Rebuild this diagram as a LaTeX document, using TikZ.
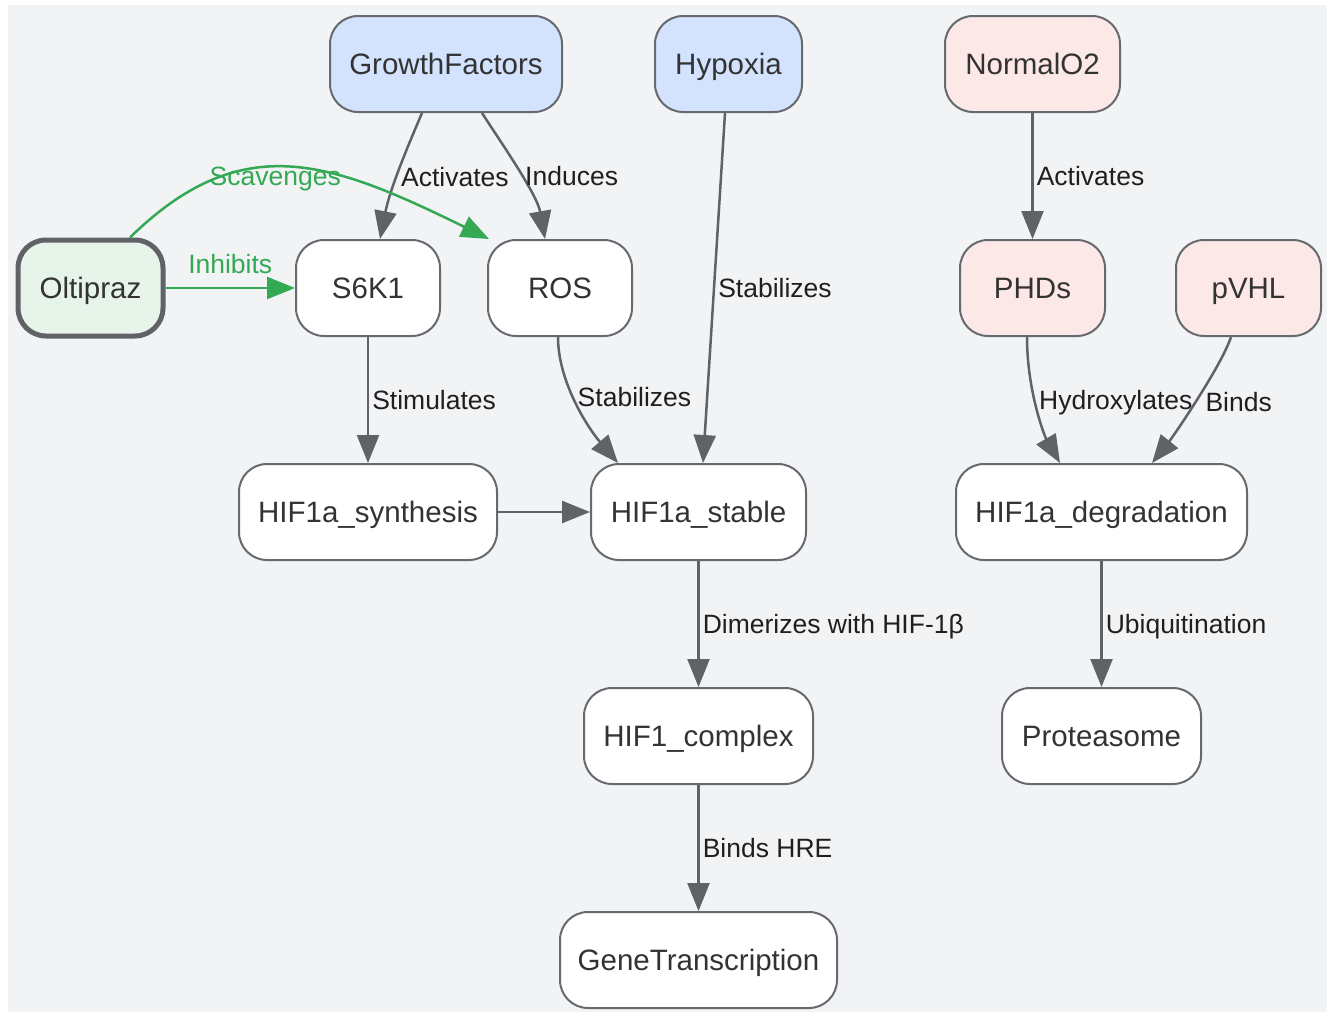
\documentclass[tikz,border=0pt]{standalone}
\usepackage{fontspec}
\setmainfont{Liberation Sans}
\usetikzlibrary{arrows.meta,calc}

\definecolor{bgcol}{HTML}{F2F3F5}
\definecolor{edgecol}{HTML}{5F6368}
\definecolor{bordercol}{HTML}{66696E}
\definecolor{inputblue}{HTML}{D3E3FD}
\definecolor{oxypink}{HTML}{FCE8E6}
\definecolor{drugfill}{HTML}{E6F4EA}
\definecolor{druggreen}{HTML}{34A853}
\definecolor{textcol}{HTML}{333333}

\tikzset{
    box/.style={draw=bordercol, line width=2pt, fill=white, rounded corners=28pt,
        minimum height=96pt, minimum width=#1, inner sep=0pt, text=textcol,
        font=\fontsize{29.5}{34}\selectfont, text height=21pt, text depth=0pt},
    box/.default=144pt,
    inputbox/.style={box=#1, fill=inputblue},
    inputbox/.default=144pt,
    oxybox/.style={box=#1, fill=oxypink},
    oxybox/.default=144pt,
    drugbox/.style={box=#1, fill=drugfill, draw=edgecol, line width=5pt},
    drugbox/.default=144pt,
    edge/.style={draw=edgecol, line width=2.5pt, -{Triangle[length=28pt,width=22pt]}},
    drugedge/.style={edge, draw=druggreen},
    lbl/.style={anchor=west, inner sep=3pt, text=black!88,
        font=\fontsize{26.5}{30}\selectfont, text height=19pt, text depth=0pt},
    druglbl/.style={lbl, text=druggreen}
}

\begin{document}
\begin{tikzpicture}[x=1pt, y=-1pt]
    \useasboundingbox (0,0) rectangle (1327,1012);
    \fill[bgcol] (8,5) rectangle (1327,1012);

    % inputs
    \node[inputbox=232pt] (growth) at (446,64) {GrowthFactors};
    \node[inputbox=147pt] (hypoxia) at (728.5,64) {Hypoxia};
    \node[oxybox=175pt] (normal) at (1032.5,64) {NormalO2};

    % second row
    \node[drugbox=145pt] (oltipraz) at (90.5,288) {Oltipraz};
    \node[box] (s6k) at (368,288) {S6K1};
    \node[box] (ros) at (560,288) {ROS};
    \node[oxybox=145pt] (phd) at (1032.5,288) {PHDs};
    \node[oxybox=145pt] (vhl) at (1248.5,288) {pVHL};

    % HIF1a states
    \node[box=258pt] (synth) at (368,512) {HIF1a\_synthesis};
    \node[box=215pt] (stable) at (698.5,512) {HIF1a\_stable};
    \node[box=291pt] (degr) at (1101.5,512) {HIF1a\_degradation};

    \node[box=229pt] (complex) at (698.5,736) {HIF1\_complex};
    \node[box=199pt] (prot) at (1101.5,736) {Proteasome};
    \node[box=277pt] (gene) at (698.5,960) {GeneTranscription};

    % connectors
    \draw[edge] ([xshift=-24pt]growth.south) .. controls +(-15,35) and +(10,-50) ..
        node[lbl, pos=0.55] {Activates} ([xshift=12pt]s6k.north);
    \draw[edge] ([xshift=36pt]growth.south) .. controls +(18,28) and +(-8,-45) ..
        node[lbl, pos=0.55] {Induces} ([xshift=-15pt]ros.north);
    \draw[edge] ([xshift=-3.5pt]hypoxia.south) -- node[lbl] {Stabilizes} ([xshift=4.5pt]stable.north);
    \draw[edge] (normal) -- node[lbl] {Activates} (phd);

    \draw[drugedge] (oltipraz) -- node[druglbl, above=10pt] {Inhibits} (s6k);
    \draw[drugedge] ([xshift=39.5pt]oltipraz.north) .. controls (242,128) and (330,161) ..
        node[druglbl, pos=0.45, anchor=center, yshift=-9pt] {Scavenges} ([xshift=2pt]ros.north west);

    \draw[edge] (s6k) -- node[lbl] {Stimulates} (synth);
    \draw[edge] ([xshift=-2pt]ros.south) .. controls +(0,45) and +(-30,-35) ..
        node[lbl, pos=0.45] {Stabilizes} ([xshift=-80.5pt]stable.north);
    \draw[edge] (synth) -- (stable);

    \draw[edge] ([xshift=-5.5pt]phd.south) .. controls +(0,55) and +(-15,-26) ..
        node[lbl, pos=0.42] {Hydroxylates} ([xshift=-41.5pt]degr.north);
    \draw[edge] ([xshift=-17.5pt]vhl.south) .. controls +(-10,30) and +(20,-25) ..
        node[lbl, xshift=6pt] {Binds} ([xshift=50.5pt]degr.north);

    \draw[edge] (stable) -- node[lbl] {Dimerizes with HIF-1β} (complex);
    \draw[edge] (degr) -- node[lbl] {Ubiquitination} (prot);
    \draw[edge] (complex) -- node[lbl] {Binds HRE} (gene);
\end{tikzpicture}
\end{document}
